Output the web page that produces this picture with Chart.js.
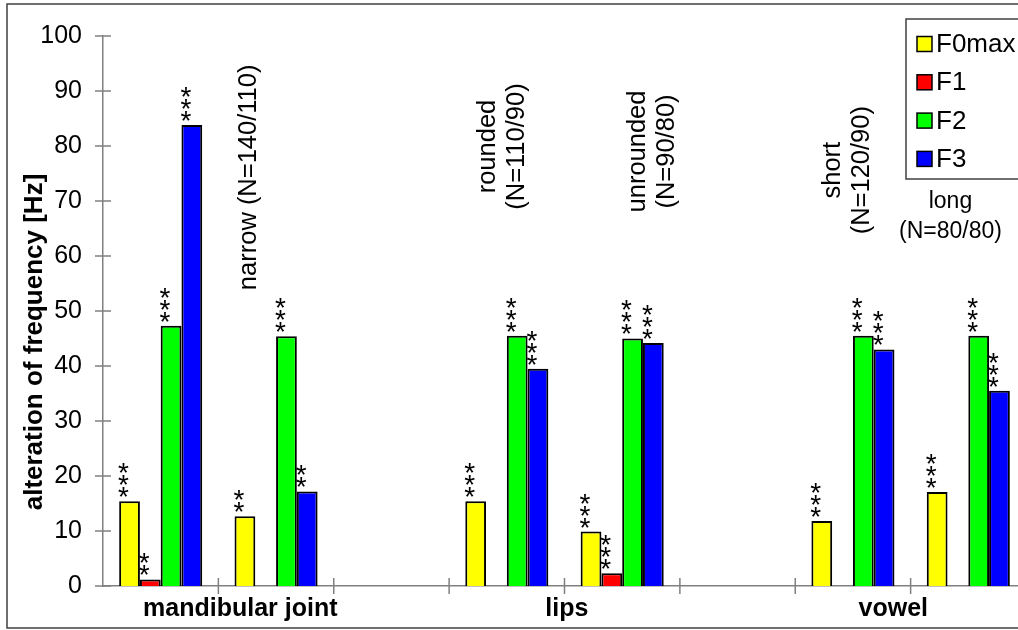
<!DOCTYPE html>
<html>
<head>
<meta charset="utf-8">
<title>alteration of frequency</title>
<script src="https://cdn.jsdelivr.net/npm/chart.js@4.4.1/dist/chart.umd.min.js"></script>
<style>
    html, body { margin: 0; padding: 0; background: #fff; overflow: hidden; }
    #wrap { width: 1018px; height: 630px; overflow: hidden; position: relative; }
    #freqChart { display: block; }
</style>
</head>
<body>
<div id="wrap">
    <canvas id="freqChart" width="1030" height="630"></canvas>
</div>
<script>
// categories (subgroups), the first one has no label in the picture
var categories = ['wide', 'narrow', '', 'rounded', 'unrounded', '', 'short', 'long'];
var seriesNames = ['F0max', 'F1', 'F2', 'F3'];

// values in Hz, null = no bar
var f0max = [15.4, 12.7, null, 15.4, 9.9, null, 11.8, 17.1];
var f1    = [1.2, null, null, null, 2.3, null, null, null];
var f2    = [47.3, 45.4, null, 45.5, 45.0, null, 45.5, 45.5];
var f3    = [83.8, 17.2, null, 39.5, 44.2, null, 43.0, 35.5];

// significance marks above the bars
var starsF0max = ['***', '**', '', '***', '***', '', '***', '***'];
var starsF1    = ['**', '', '', '', '***', '', '', ''];
var starsF2    = ['***', '***', '', '***', '***', '', '***', '***'];
var starsF3    = ['***', '**', '', '***', '***', '', '***', '***'];

var yTicks = [0, 10, 20, 30, 40, 50, 60, 70, 80, 90, 100];
var groupNames = ['mandibular joint', 'lips', 'vowel'];
var yTitle = 'alteration of frequency [Hz]';

var FONT = '"Liberation Sans", Arial, sans-serif';
var colors = ['#ffff00', '#ff0000', '#00ff00', '#0000ff'];
var allStars = [starsF0max, starsF1, starsF2, starsF3];

// text notes placed in axis units (x = category index, y = Hz)
var notes = [
    { lines: ['narrow (N=140/110)'], x: 0.827, y: 74.3, rotate: true },
    { lines: ['rounded', '(N=110/90)'], x: 2.90, y: 79.9, rotate: true },
    { lines: ['unrounded', '(N=90/80)'], x: 4.20, y: 79.0, rotate: true },
    { lines: ['short', '(N=120/90)'], x: 5.89, y: 75.6, rotate: true },
    { lines: ['long', '(N=80/80)'], x: 6.845, y: 68.8, rotate: false }
];
var groupPos = [0.69, 3.52, 6.35];

var decorPlugin = {
    id: 'decor',
    beforeDraw: function(chart) {
        var ctx = chart.ctx;
        ctx.save();
        ctx.fillStyle = '#ffffff';
        ctx.fillRect(0, 0, chart.width, chart.height);
        ctx.restore();
    },
    afterDatasetsDraw: function(chart) {
        var ctx = chart.ctx;
        var xs = chart.scales.x, ys = chart.scales.y;
        var area = chart.chartArea;
        ctx.save();

        // axis tick marks crossing the axis lines
        ctx.strokeStyle = '#808080';
        ctx.lineWidth = 1.5;
        ctx.beginPath();
        yTicks.forEach(function(t) {
            var py = ys.getPixelForValue(t);
            ctx.moveTo(area.left - 8, py);
            ctx.lineTo(area.left + 8, py);
        });
        for (var i = 1; i < categories.length; i++) {
            var px = xs.getPixelForValue(i - 0.5);
            ctx.moveTo(px, area.bottom - 8);
            ctx.lineTo(px, area.bottom + 8);
        }
        ctx.stroke();

        // stars, one above the other
        ctx.fillStyle = '#000';
        ctx.font = '28px ' + FONT;
        ctx.textAlign = 'center';
        ctx.textBaseline = 'alphabetic';
        chart.data.datasets.forEach(function(ds, d) {
            var meta = chart.getDatasetMeta(d);
            meta.data.forEach(function(bar, i) {
                var s = allStars[d][i];
                if (!s || ds.data[i] === null) return;
                for (var k = 0; k < s.length; k++) {
                    var cy = bar.y - 11 - 12 * k;
                    ctx.fillText('*', bar.x - 6, cy + 0.57 * 28);
                }
            });
        });

        // notes
        notes.forEach(function(n) {
            var px = xs.getPixelForValue(n.x);
            var py = ys.getPixelForValue(n.y);
            if (n.rotate) {
                ctx.font = '25.5px ' + FONT;
                n.lines.forEach(function(line, j) {
                    ctx.save();
                    ctx.translate(px + j * 29, py);
                    ctx.rotate(-Math.PI / 2);
                    ctx.textAlign = 'center';
                    ctx.textBaseline = 'alphabetic';
                    ctx.fillText(line, 0, 0);
                    ctx.restore();
                });
            } else {
                ctx.font = '23px ' + FONT;
                n.lines.forEach(function(line, j) {
                    ctx.textAlign = 'center';
                    ctx.textBaseline = 'alphabetic';
                    ctx.fillText(line, px, py + j * 30);
                });
            }
        });

        // group labels under the axis
        ctx.font = 'bold 25px ' + FONT;
        ctx.textAlign = 'center';
        groupNames.forEach(function(g, i) {
            ctx.fillText(g, xs.getPixelForValue(groupPos[i]), area.bottom + 30);
        });

        // y axis title
        ctx.save();
        ctx.font = 'bold 26px ' + FONT;
        ctx.translate(area.left - 61, (area.top + area.bottom) / 2 + 31);
        ctx.rotate(-Math.PI / 2);
        ctx.textAlign = 'center';
        ctx.fillText(yTitle, 0, 0);
        ctx.restore();

        ctx.restore();
    },
    afterDraw: function(chart) {
        var ctx = chart.ctx;
        var area = chart.chartArea;
        ctx.save();

        // legend box in the upper right corner
        var bx = area.left + 803, by = area.top - 17;
        ctx.fillStyle = '#fff';
        ctx.fillRect(bx, by, 200, 160);
        ctx.strokeStyle = '#404040';
        ctx.lineWidth = 1.5;
        ctx.strokeRect(bx, by, 200, 160);
        ctx.font = '26px ' + FONT;
        ctx.textAlign = 'left';
        ctx.textBaseline = 'middle';
        chart.data.datasets.forEach(function(ds, d) {
            var cy = by + 25 + d * 38.3;
            ctx.fillStyle = ds.backgroundColor;
            ctx.fillRect(bx + 11, cy - 7.5, 15, 15);
            ctx.strokeStyle = '#000';
            ctx.lineWidth = 1.5;
            ctx.strokeRect(bx + 11, cy - 7.5, 15, 15);
            ctx.fillStyle = '#000';
            ctx.fillText(ds.label, bx + 30, cy + 1);
        });

        // outer frame
        ctx.strokeStyle = '#404040';
        ctx.lineWidth = 1.5;
        ctx.strokeRect(7, 4, 1100, 624);
        ctx.restore();
    }
};

var ctx = document.getElementById('freqChart').getContext('2d');
var seriesData = [f0max, f1, f2, f3];

new Chart(ctx, {
    type: 'bar',
    data: {
        labels: categories,
        datasets: seriesNames.map(function(name, i) {
            return {
                label: name,
                data: seriesData[i],
                backgroundColor: colors[i],
                borderColor: '#000000',
                borderWidth: 2,
                borderSkipped: 'bottom',
                categoryPercentage: 0.72,
                barPercentage: 1.0
            };
        })
    },
    options: {
        responsive: false,
        animation: false,
        devicePixelRatio: 1,
        layout: { padding: { top: 29, right: 4, left: 0, bottom: 0 } },
        plugins: {
            legend: { display: false },
            tooltip: { enabled: false }
        },
        scales: {
            x: {
                offset: true,
                grid: { display: false, drawTicks: false },
                border: { display: true, color: '#808080', width: 1.5 },
                ticks: { display: false },
                afterFit: function(scale) { scale.height = 44; }
            },
            y: {
                min: 0,
                max: 100,
                afterBuildTicks: function(scale) {
                    scale.ticks = yTicks.map(function(v) { return { value: v }; });
                },
                grid: { display: false, drawTicks: false },
                border: { display: true, color: '#808080', width: 1.5 },
                ticks: {
                    color: '#000',
                    padding: 21,
                    font: { family: FONT, size: 25 }
                },
                afterFit: function(scale) { scale.width = 103; }
            }
        }
    },
    plugins: [decorPlugin]
});
</script>
</body>
</html>
